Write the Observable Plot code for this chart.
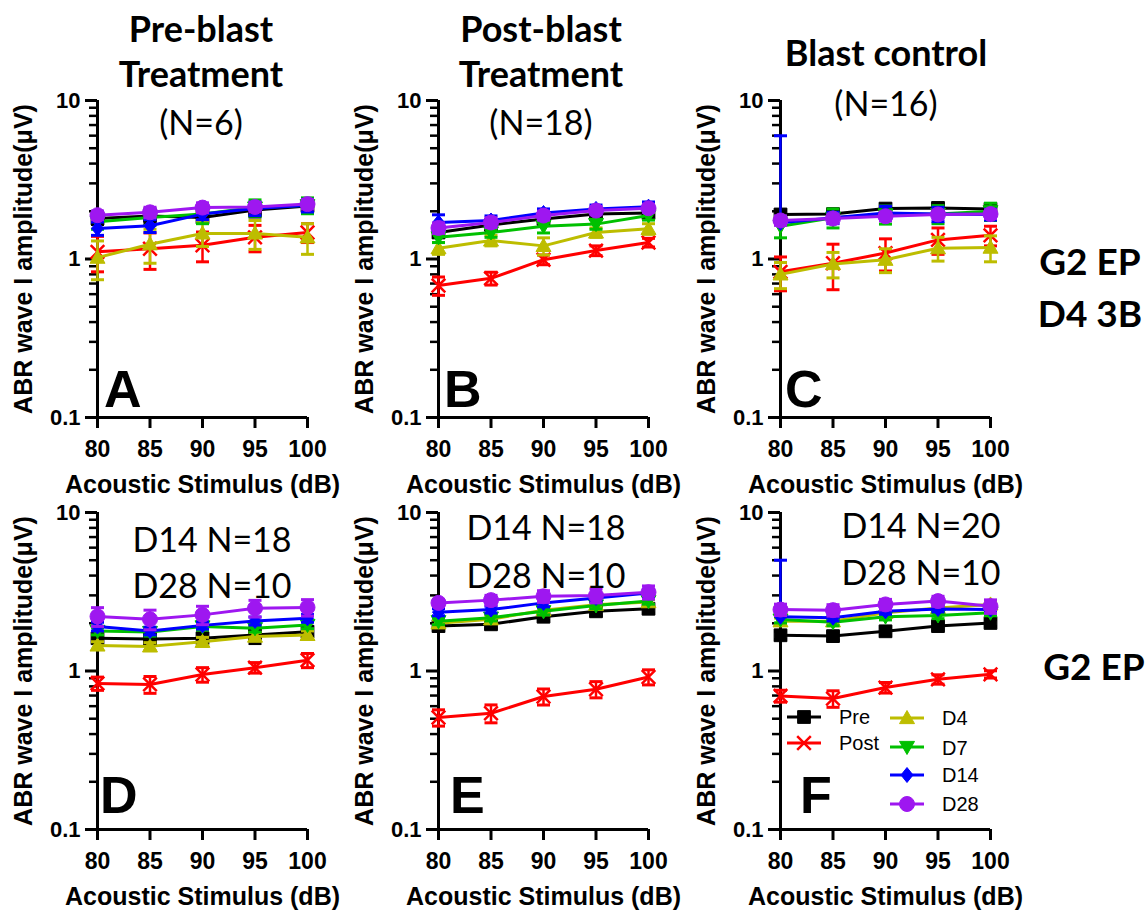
<!DOCTYPE html>
<html><head><meta charset="utf-8">
<script src="https://cdn.jsdelivr.net/npm/d3@7"></script>
<script src="https://cdn.jsdelivr.net/npm/@observablehq/plot@0.6"></script>
<style>
body{margin:0;background:#fff;}
#wrap{position:relative;width:1147px;height:911px;overflow:hidden;background:#fff;}
.panel{position:absolute;}
#overlay{position:absolute;left:0;top:0;pointer-events:none;}
</style></head><body><div id="wrap"></div>
<script>
// ---------- data ----------
const dB = [80, 85, 90, 95, 100];
const seriesNames = ["Pre", "Post", "D4", "D7", "D14", "D28"];
const seriesColors = ["#000000", "#ff0000", "#bdbd00", "#00c000", "#0000ff", "#9e17f0"];
const yMajor = [0.1, 1, 10];
const yMinor = [0.2, 0.3, 0.4, 0.5, 0.6, 0.7, 0.8, 0.9, 2, 3, 4, 5, 6, 7, 8, 9];

// rows: Pre, Post, D4, D7, D14, D28 ; columns: 80..100 dB
const meanA = [
  [1.80, 1.87, 1.83, 2.04, 2.16],
  [1.11, 1.16, 1.22, 1.37, 1.47],
  [1.02, 1.24, 1.45, 1.45, 1.37],
  [1.72, 1.83, 1.92, 2.11, 2.18],
  [1.56, 1.62, 1.92, 2.08, 2.18],
  [1.89, 1.97, 2.11, 2.13, 2.22]];
const semA = [
  [0.15, 0.20, 0.15, 0.20, 0.20],
  [0.28, 0.30, 0.26, 0.26, 0.20],
  [0.28, 0.30, 0.25, 0.30, 0.30],
  [0.18, 0.20, 0.25, 0.25, 0.25],
  [0.15, 0.15, 0.15, 0.20, 0.20],
  [0.12, 0.15, 0.15, 0.15, 0.15]];

const meanB = [
  [1.47, 1.64, 1.79, 1.92, 1.95],
  [0.68, 0.755, 0.99, 1.13, 1.27],
  [1.17, 1.31, 1.21, 1.47, 1.55],
  [1.37, 1.47, 1.61, 1.66, 1.88],
  [1.70, 1.75, 1.95, 2.07, 2.14],
  [1.57, 1.70, 1.88, 2.02, 2.09]];
const semB = [
  [0.10, 0.10, 0.10, 0.10, 0.10],
  [0.09, 0.07, 0.07, 0.08, 0.08],
  [0.10, 0.10, 0.15, 0.10, 0.12],
  [0.10, 0.10, 0.15, 0.12, 0.12],
  [0.20, 0.12, 0.12, 0.12, 0.15],
  [0.12, 0.12, 0.12, 0.12, 0.12]];

const meanC = [
  [1.91, 1.92, 2.08, 2.10, 2.07],
  [0.83, 0.94, 1.09, 1.32, 1.41],
  [0.80, 0.93, 0.99, 1.17, 1.18],
  [1.61, 1.82, 1.91, 1.92, 2.00],
  [1.69, 1.82, 1.95, 1.92, 1.91],
  [1.75, 1.80, 1.86, 1.91, 1.92]];
const semC = [
  [0.12, 0.12, 0.12, 0.12, 0.12],
  [0.20, 0.30, 0.25, 0.25, 0.20],
  [0.15, 0.17, 0.17, 0.20, 0.22],
  [0.25, 0.25, 0.25, 0.25, 0.25],
  [4.30, 0.15, 0.20, 0.20, 0.15],
  [0.12, 0.12, 0.12, 0.12, 0.12]];

const meanD = [
  [1.61, 1.59, 1.61, 1.69, 1.77],
  [0.835, 0.823, 0.95, 1.05, 1.17],
  [1.45, 1.43, 1.53, 1.65, 1.69],
  [1.79, 1.76, 1.91, 1.86, 1.95],
  [1.91, 1.79, 1.94, 2.07, 2.15],
  [2.21, 2.12, 2.26, 2.49, 2.52]];
const semD = [
  [0.10, 0.10, 0.12, 0.20, 0.12],
  [0.08, 0.10, 0.10, 0.08, 0.12],
  [0.08, 0.08, 0.10, 0.10, 0.10],
  [0.10, 0.10, 0.10, 0.10, 0.10],
  [0.12, 0.10, 0.10, 0.12, 0.12],
  [0.30, 0.30, 0.30, 0.30, 0.30]];

const meanE = [
  [1.92, 1.97, 2.20, 2.38, 2.47],
  [0.509, 0.541, 0.69, 0.767, 0.917],
  [2.00, 2.12, 2.42, 2.62, 2.72],
  [2.06, 2.17, 2.38, 2.59, 2.76],
  [2.35, 2.44, 2.69, 2.89, 3.11],
  [2.69, 2.80, 2.96, 2.99, 3.14]];
const semE = [
  [0.12, 0.12, 0.12, 0.15, 0.15],
  [0.06, 0.07, 0.08, 0.09, 0.10],
  [0.10, 0.10, 0.10, 0.10, 0.10],
  [0.10, 0.10, 0.12, 0.12, 0.12],
  [0.12, 0.12, 0.15, 0.15, 0.15],
  [0.12, 0.20, 0.25, 0.30, 0.30]];

const meanF = [
  [1.68, 1.66, 1.78, 1.92, 2.01],
  [0.696, 0.67, 0.786, 0.886, 0.953],
  [2.06, 2.06, 2.33, 2.50, 2.63],
  [2.11, 2.03, 2.20, 2.24, 2.33],
  [2.20, 2.17, 2.38, 2.46, 2.44],
  [2.44, 2.42, 2.63, 2.76, 2.56]];
const semF = [
  [0.10, 0.10, 0.10, 0.10, 0.10],
  [0.06, 0.08, 0.06, 0.06, 0.05],
  [0.10, 0.10, 0.10, 0.10, 0.10],
  [0.10, 0.10, 0.10, 0.10, 0.10],
  [2.80, 0.10, 0.10, 0.10, 0.10],
  [0.20, 0.20, 0.20, 0.20, 0.25]];

// ---------- symbols ----------
const capSym = {draw(ctx, size) { const w = Math.sqrt(size / Math.PI); ctx.moveTo(-w, 0); ctx.lineTo(w, 0); }};
const squareSym = {draw(ctx, size) { const r = Math.sqrt(size / Math.PI) * 0.85; ctx.moveTo(-r, -r); ctx.lineTo(r, -r); ctx.lineTo(r, r); ctx.lineTo(-r, r); ctx.closePath(); }};
const triUpSym = {draw(ctx, size) { const r = Math.sqrt(size / Math.PI); ctx.moveTo(0, -r); ctx.lineTo(r, r * 0.75); ctx.lineTo(-r, r * 0.75); ctx.closePath(); }};
const triDownSym = {draw(ctx, size) { const r = Math.sqrt(size / Math.PI); ctx.moveTo(0, r); ctx.lineTo(r, -r * 0.75); ctx.lineTo(-r, -r * 0.75); ctx.closePath(); }};
const diamondSym = {draw(ctx, size) { const r = Math.sqrt(size / Math.PI); ctx.moveTo(0, -r); ctx.lineTo(r * 0.8, 0); ctx.lineTo(0, r); ctx.lineTo(-r * 0.8, 0); ctx.closePath(); }};
const circleSym = {draw(ctx, size) { const r = Math.sqrt(size / Math.PI); ctx.moveTo(r, 0); ctx.arc(0, 0, r, 0, 2 * Math.PI); }};
const timesSym = {draw(ctx, size) { const r = Math.sqrt(size / Math.PI) * 0.85; ctx.moveTo(-r, -r); ctx.lineTo(r, r); ctx.moveTo(r, -r); ctx.lineTo(-r, r); }};
const seriesSymbols = [squareSym, timesSym, triUpSym, triDownSym, diamondSym, circleSym];
const seriesFilled = [true, false, true, true, true, true];

// ---------- layout ----------
const ML = 95, MT = 10, FW = 210, FH = 317, MR = 15, MB = 90;
const wrap = document.getElementById("wrap");

function panel(mean, sem, left, top) {
  const marks = [];
  seriesNames.forEach((s, i) => {
    const rows = dB.map((x, j) => {
      const m = mean[i][j], e = sem[i][j];
      return {x, y: m, lo: m - e > 0 ? m - e : null, hi: m + e};
    });
    const c = seriesColors[i];
    marks.push(Plot.line(rows, {x: "x", y: "y", stroke: c, strokeWidth: 3}));
    marks.push(Plot.ruleX(rows, {x: "x", y1: d => d.lo ?? d.y, y2: "hi", stroke: c, strokeWidth: 2.5}));
    marks.push(Plot.dot(rows, {x: "x", y: "hi", symbol: capSym, r: 6.5, stroke: c, strokeWidth: 3}));
    marks.push(Plot.dot(rows.filter(d => d.lo != null), {x: "x", y: "lo", symbol: capSym, r: 6.5, stroke: c, strokeWidth: 3}));
    marks.push(Plot.dot(rows, seriesFilled[i]
      ? {x: "x", y: "y", symbol: seriesSymbols[i], r: 7.5, fill: c, stroke: c, strokeWidth: 1}
      : {x: "x", y: "y", symbol: seriesSymbols[i], r: 8, fill: "none", stroke: c, strokeWidth: 2.5}));
  });
  const svg = Plot.plot({
    width: ML + FW + MR, height: MT + FH + MB,
    marginLeft: ML, marginTop: MT, marginRight: MR, marginBottom: MB,
    x: {type: "linear", domain: [dB[0], dB[dB.length - 1]], label: null},
    y: {type: "log", domain: [yMajor[0], yMajor[yMajor.length - 1]], label: null},
    style: {fontFamily: "'Liberation Sans', Arial, sans-serif", fontWeight: "bold", fontSize: "22px", background: "transparent", overflow: "visible", color: "#000"},
    marks: [
      Plot.axisY({ticks: yMinor, tickSize: 8, strokeWidth: 2.5, tickFormat: () => "", label: null}),
      Plot.axisY({ticks: yMajor, tickSize: 12, tickPadding: 5, strokeWidth: 3, fontSize: 22, tickFormat: d => String(d), label: null}),
      Plot.axisX({ticks: dB, tickSize: 11, tickPadding: 12, strokeWidth: 3, fontSize: 23, tickFormat: d => String(d), label: null}),
      Plot.ruleX([dB[0]], {strokeWidth: 3}),
      Plot.ruleY([yMajor[0]], {strokeWidth: 3}),
      ...marks,
      Plot.text(["ABR wave I amplitude(μV)"], {text: d => d, frameAnchor: "left", textAnchor: "middle", lineAnchor: "middle", rotate: -90, dx: -74, fontSize: 25, fontWeight: "bold"}),
      Plot.text(["Acoustic Stimulus (dB)"], {text: d => d, frameAnchor: "bottom", textAnchor: "middle", lineAnchor: "middle", dy: 67, fontSize: 25, fontWeight: "bold"})
    ]
  });
  const div = document.createElement("div");
  div.className = "panel";
  div.style.left = left + "px";
  div.style.top = top + "px";
  div.appendChild(svg);
  wrap.appendChild(div);
}

panel(meanA, semA, 97 - ML, 100 - MT);
panel(meanB, semB, 438 - ML, 100 - MT);
panel(meanC, semC, 780 - ML, 100 - MT);
panel(meanD, semD, 97 - ML, 512 - MT);
panel(meanE, semE, 438 - ML, 512 - MT);
panel(meanF, semF, 780 - ML, 512 - MT);

// ---------- overlay text & legend ----------
const ov = d3.select(wrap).append("svg").attr("id", "overlay").attr("width", 1147).attr("height", 911);
const calib = "Lato, 'Open Sans', sans-serif";
const arial = "'Liberation Sans', Arial, sans-serif";
function txt(s, x, y, size, weight, family, anchor = "middle") {
  ov.append("text").attr("x", x).attr("y", y).attr("font-size", size).attr("font-weight", weight)
    .attr("font-family", family).attr("text-anchor", anchor).attr("fill", "#000").text(s);
}
// column titles
txt("Pre-blast", 201, 42, 36, "bold", calib);
txt("Treatment", 201, 87, 36, "bold", calib);
txt("(N=6)", 201, 135, 34, "normal", calib);
txt("Post-blast", 541, 42, 36, "bold", calib);
txt("Treatment", 541, 87, 36, "bold", calib);
txt("(N=18)", 541, 135, 34, "normal", calib);
txt("Blast control", 886, 66, 36, "bold", calib);
txt("(N=16)", 886, 116, 34, "normal", calib);
// row labels
txt("G2 EP", 1090, 275, 37, "bold", calib);
txt("D4 3B", 1090, 327, 37, "bold", calib);
txt("G2 EP", 1094, 680, 37, "bold", calib);
// group sizes
txt("D14 N=18", 212, 552, 34, "normal", calib);
txt("D28 N=10", 212, 598, 34, "normal", calib);
txt("D14 N=18", 546, 540, 34, "normal", calib);
txt("D28 N=10", 546, 588, 34, "normal", calib);
txt("D14 N=20", 921, 538, 34, "normal", calib);
txt("D28 N=10", 921, 585, 34, "normal", calib);
// panel letters
[["A", 104, 407], ["B", 444, 407], ["C", 785, 407], ["D", 100, 813], ["E", 450, 813], ["F", 800, 813]]
  .forEach(([s, x, y]) => txt(s, x, y, 52, "bold", arial, "start"));

// legend (inside panel F)
const legendPos = [[787, 717], [787, 743], [890, 718], [890, 747], [890, 775], [890, 804]];
const legendText = [[839, 724], [839, 750], [942, 725], [942, 755], [942, 782], [942, 811]];
seriesNames.forEach((s, i) => {
  const [lx, ly] = legendPos[i];
  const c = seriesColors[i];
  ov.append("line").attr("x1", lx).attr("x2", lx + 34).attr("y1", ly).attr("y2", ly).attr("stroke", c).attr("stroke-width", 3);
  const path = d3.path();
  seriesSymbols[i].draw(path, Math.PI * (seriesFilled[i] ? 7.5 : 8) ** 2);
  ov.append("path").attr("d", path.toString()).attr("transform", `translate(${lx + 17},${ly})`)
    .attr("fill", seriesFilled[i] ? c : "none").attr("stroke", c).attr("stroke-width", seriesFilled[i] ? 1 : 2.5);
  txt(s, legendText[i][0], legendText[i][1], 20, "normal", arial, "start");
});
</script>
</body></html>
